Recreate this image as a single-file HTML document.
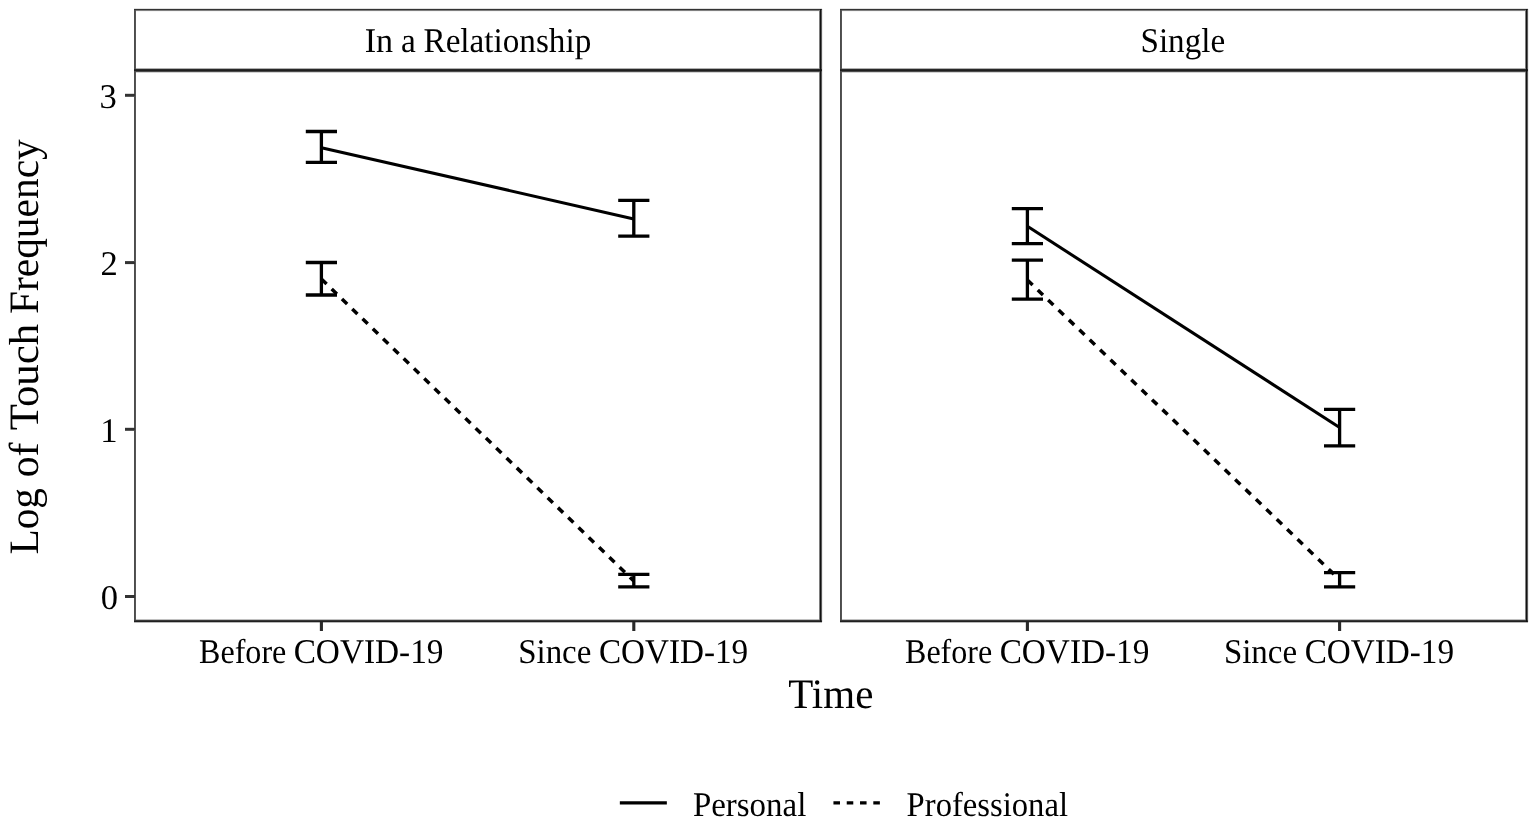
<!DOCTYPE html>
<html lang="en">
<head>
<meta charset="utf-8">
<title>Log of Touch Frequency by Time and Relationship Status</title>
<style>
html,body{margin:0;padding:0;background:#fff;}
body{width:1535px;height:828px;overflow:hidden;}
svg{display:block;position:absolute;left:0;top:0;}
text{font-family:"Liberation Serif",serif;fill:#000;white-space:pre;text-rendering:geometricPrecision;}
.b{mix-blend-mode:darken;}
</style>
</head>
<body>
<svg width="1535" height="828" viewBox="0 0 1535 828">
<rect x="0" y="0" width="1535" height="828" fill="#fff"/>
<g id="y-axis">
<rect class="b" x="125" y="595" width="10" height="3" fill="#333"/>
<text id="y0" y="609" font-size="34.60"><tspan x="100.79">0</tspan></text>
<rect class="b" x="125" y="427.8" width="10" height="3" fill="#333"/>
<text id="y1" y="442" font-size="34.60"><tspan x="100.31">1</tspan></text>
<rect class="b" x="125" y="261.1" width="10" height="3" fill="#333"/>
<text id="y2" y="275" font-size="34.60"><tspan x="100.62">2</tspan></text>
<rect class="b" x="125" y="93.8" width="10" height="3" fill="#333"/>
<text id="y3" y="108" font-size="34.60"><tspan x="99.51">3</tspan></text>
</g>
<text id="ytitle" transform="translate(38.40 0) rotate(-90)" font-size="41.90"><tspan x="-554.62" textLength="66.58" lengthAdjust="spacingAndGlyphs">Log</tspan> <tspan x="-477.34" textLength="34.91" lengthAdjust="spacingAndGlyphs">of</tspan> <tspan x="-430.18" textLength="106.33" lengthAdjust="spacingAndGlyphs">Touch</tspan> <tspan x="-314.09" textLength="174.87" lengthAdjust="spacingAndGlyphs">Frequency</tspan></text>
<g id="panel-1">
<line x1="321.4" y1="147.65" x2="633.8" y2="218.93" stroke="#000" stroke-width="3.1"/>
<line x1="321.4" y1="279.1" x2="633.8" y2="580.9" stroke="#000" stroke-width="3.5" stroke-dasharray="7.2 7.1" stroke-dashoffset="0"/>
<path d="M305.80 131.5H337.00M321.4 131.5V162.3M305.80 162.3H337.00" fill="none" stroke="#000" stroke-width="3.3"/>
<path d="M618.20 200.4H649.40M633.8 200.4V236.2M618.20 236.2H649.40" fill="none" stroke="#000" stroke-width="3.3"/>
<path d="M305.80 262.5H337.00M321.4 262.5V295.0M305.80 295.0H337.00" fill="none" stroke="#000" stroke-width="3.3"/>
<path d="M618.20 574.3H649.40M633.8 574.3V586.8M618.20 586.8H649.40" fill="none" stroke="#000" stroke-width="3.3"/>
<rect class="b" x="134" y="9" width="1" height="613" fill="#4c4c4c"/>
<rect class="b" x="135" y="9" width="1" height="613" fill="#555555"/>
<rect class="b" x="819" y="9" width="1" height="613" fill="#7e7e7e"/>
<rect class="b" x="820" y="9" width="1" height="613" fill="#121212"/>
<rect class="b" x="821" y="9" width="1" height="613" fill="#5a5a5a"/>
<rect class="b" x="822" y="9" width="1" height="613" fill="#ededed"/>
<rect class="b" x="134" y="8" width="688" height="1" fill="#e0e0e0"/>
<rect class="b" x="134" y="9" width="688" height="1" fill="#333333"/>
<rect class="b" x="134" y="10" width="688" height="1" fill="#808080"/>
<rect class="b" x="134" y="11" width="688" height="1" fill="#f5f5f5"/>
<rect class="b" x="134" y="68" width="688" height="1" fill="#b0b0b0"/>
<rect class="b" x="134" y="69" width="688" height="1" fill="#282828"/>
<rect class="b" x="134" y="70" width="688" height="1" fill="#1e1e1e"/>
<rect class="b" x="134" y="71" width="688" height="1" fill="#4b4b4b"/>
<rect class="b" x="134" y="72" width="688" height="1" fill="#d2d2d2"/>
<rect class="b" x="134" y="619" width="688" height="1" fill="#c0c0c0"/>
<rect class="b" x="134" y="620" width="688" height="1" fill="#383838"/>
<rect class="b" x="134" y="621" width="688" height="1" fill="#202020"/>
<rect class="b" x="134" y="622" width="688" height="1" fill="#b8b8b8"/>
<text id="strip1" y="52" font-size="34.60" fill="#1a1a1a"><tspan x="364.76" textLength="28.39" lengthAdjust="spacingAndGlyphs">In</tspan> <tspan x="400.99" textLength="14.80" lengthAdjust="spacingAndGlyphs">a</tspan> <tspan x="423.50" textLength="167.78" lengthAdjust="spacingAndGlyphs">Relationship</tspan></text>
<rect class="b" x="319.85" y="621" width="3.1" height="10" fill="#2a2a2a"/>
<text id="xb1" y="663" font-size="34.60"><tspan x="199.11" textLength="87.18" lengthAdjust="spacingAndGlyphs">Before</tspan> <tspan x="293.65" textLength="149.82" lengthAdjust="spacingAndGlyphs">COVID-19</tspan></text>
<rect class="b" x="632.25" y="621" width="3.1" height="10" fill="#2a2a2a"/>
<text id="xs1" y="663" font-size="34.60"><tspan x="518.19" textLength="73.16" lengthAdjust="spacingAndGlyphs">Since</tspan> <tspan x="598.97" textLength="149.21" lengthAdjust="spacingAndGlyphs">COVID-19</tspan></text>
</g>
<g id="panel-2">
<line x1="1027.4" y1="226.3" x2="1339.6" y2="427.45" stroke="#000" stroke-width="3.05"/>
<line x1="1027.4" y1="280.0" x2="1339.6" y2="579.6" stroke="#000" stroke-width="3.5" stroke-dasharray="7.2 7.2" stroke-dashoffset="0"/>
<path d="M1011.80 208.7H1043.00M1027.4 208.7V243.6M1011.80 243.6H1043.00" fill="none" stroke="#000" stroke-width="3.3"/>
<path d="M1324.00 409.35H1355.20M1339.6 409.35V445.9M1324.00 445.9H1355.20" fill="none" stroke="#000" stroke-width="3.3"/>
<path d="M1011.80 260.2H1043.00M1027.4 260.2V299.1M1011.80 299.1H1043.00" fill="none" stroke="#000" stroke-width="3.3"/>
<path d="M1324.00 572.6H1355.20M1339.6 572.6V586.8M1324.00 586.8H1355.20" fill="none" stroke="#000" stroke-width="3.3"/>
<rect class="b" x="840" y="9" width="1" height="613" fill="#4c4c4c"/>
<rect class="b" x="841" y="9" width="1" height="613" fill="#555555"/>
<rect class="b" x="1525" y="9" width="1" height="613" fill="#7e7e7e"/>
<rect class="b" x="1526" y="9" width="1" height="613" fill="#121212"/>
<rect class="b" x="1527" y="9" width="1" height="613" fill="#5a5a5a"/>
<rect class="b" x="1528" y="9" width="1" height="613" fill="#ededed"/>
<rect class="b" x="840" y="8" width="688" height="1" fill="#e0e0e0"/>
<rect class="b" x="840" y="9" width="688" height="1" fill="#333333"/>
<rect class="b" x="840" y="10" width="688" height="1" fill="#808080"/>
<rect class="b" x="840" y="11" width="688" height="1" fill="#f5f5f5"/>
<rect class="b" x="840" y="68" width="688" height="1" fill="#b0b0b0"/>
<rect class="b" x="840" y="69" width="688" height="1" fill="#282828"/>
<rect class="b" x="840" y="70" width="688" height="1" fill="#1e1e1e"/>
<rect class="b" x="840" y="71" width="688" height="1" fill="#4b4b4b"/>
<rect class="b" x="840" y="72" width="688" height="1" fill="#d2d2d2"/>
<rect class="b" x="840" y="619" width="688" height="1" fill="#c0c0c0"/>
<rect class="b" x="840" y="620" width="688" height="1" fill="#383838"/>
<rect class="b" x="840" y="621" width="688" height="1" fill="#202020"/>
<rect class="b" x="840" y="622" width="688" height="1" fill="#b8b8b8"/>
<text id="strip2" y="52" font-size="34.60" fill="#1a1a1a"><tspan x="1140.52" textLength="84.60" lengthAdjust="spacingAndGlyphs">Single</tspan></text>
<rect class="b" x="1025.85" y="621" width="3.1" height="10" fill="#2a2a2a"/>
<text id="xb2" y="663" font-size="34.60"><tspan x="905.06" textLength="87.10" lengthAdjust="spacingAndGlyphs">Before</tspan> <tspan x="999.66" textLength="149.67" lengthAdjust="spacingAndGlyphs">COVID-19</tspan></text>
<rect class="b" x="1338.05" y="621" width="3.1" height="10" fill="#2a2a2a"/>
<text id="xs2" y="663" font-size="34.60"><tspan x="1223.90" textLength="73.18" lengthAdjust="spacingAndGlyphs">Since</tspan> <tspan x="1304.67" textLength="149.35" lengthAdjust="spacingAndGlyphs">COVID-19</tspan></text>
</g>
<text id="time" y="708" font-size="42.00"><tspan x="788.19" textLength="85.17" lengthAdjust="spacingAndGlyphs">Time</tspan></text>
<g id="legend">
<line x1="619.84" y1="802.95" x2="666.85" y2="802.95" stroke="#000" stroke-width="3.2"/>
<text id="leg1" y="816" font-size="34.60"><tspan x="692.90" textLength="113.40" lengthAdjust="spacingAndGlyphs">Personal</tspan></text>
<line x1="833.44" y1="802.95" x2="879.9" y2="802.95" stroke="#000" stroke-width="3.2" stroke-dasharray="6.55 6.74"/>
<text id="leg2" y="816" font-size="34.60"><tspan x="906.61" textLength="161.35" lengthAdjust="spacingAndGlyphs">Professional</tspan></text>
</g>
</svg>
</body>
</html>
